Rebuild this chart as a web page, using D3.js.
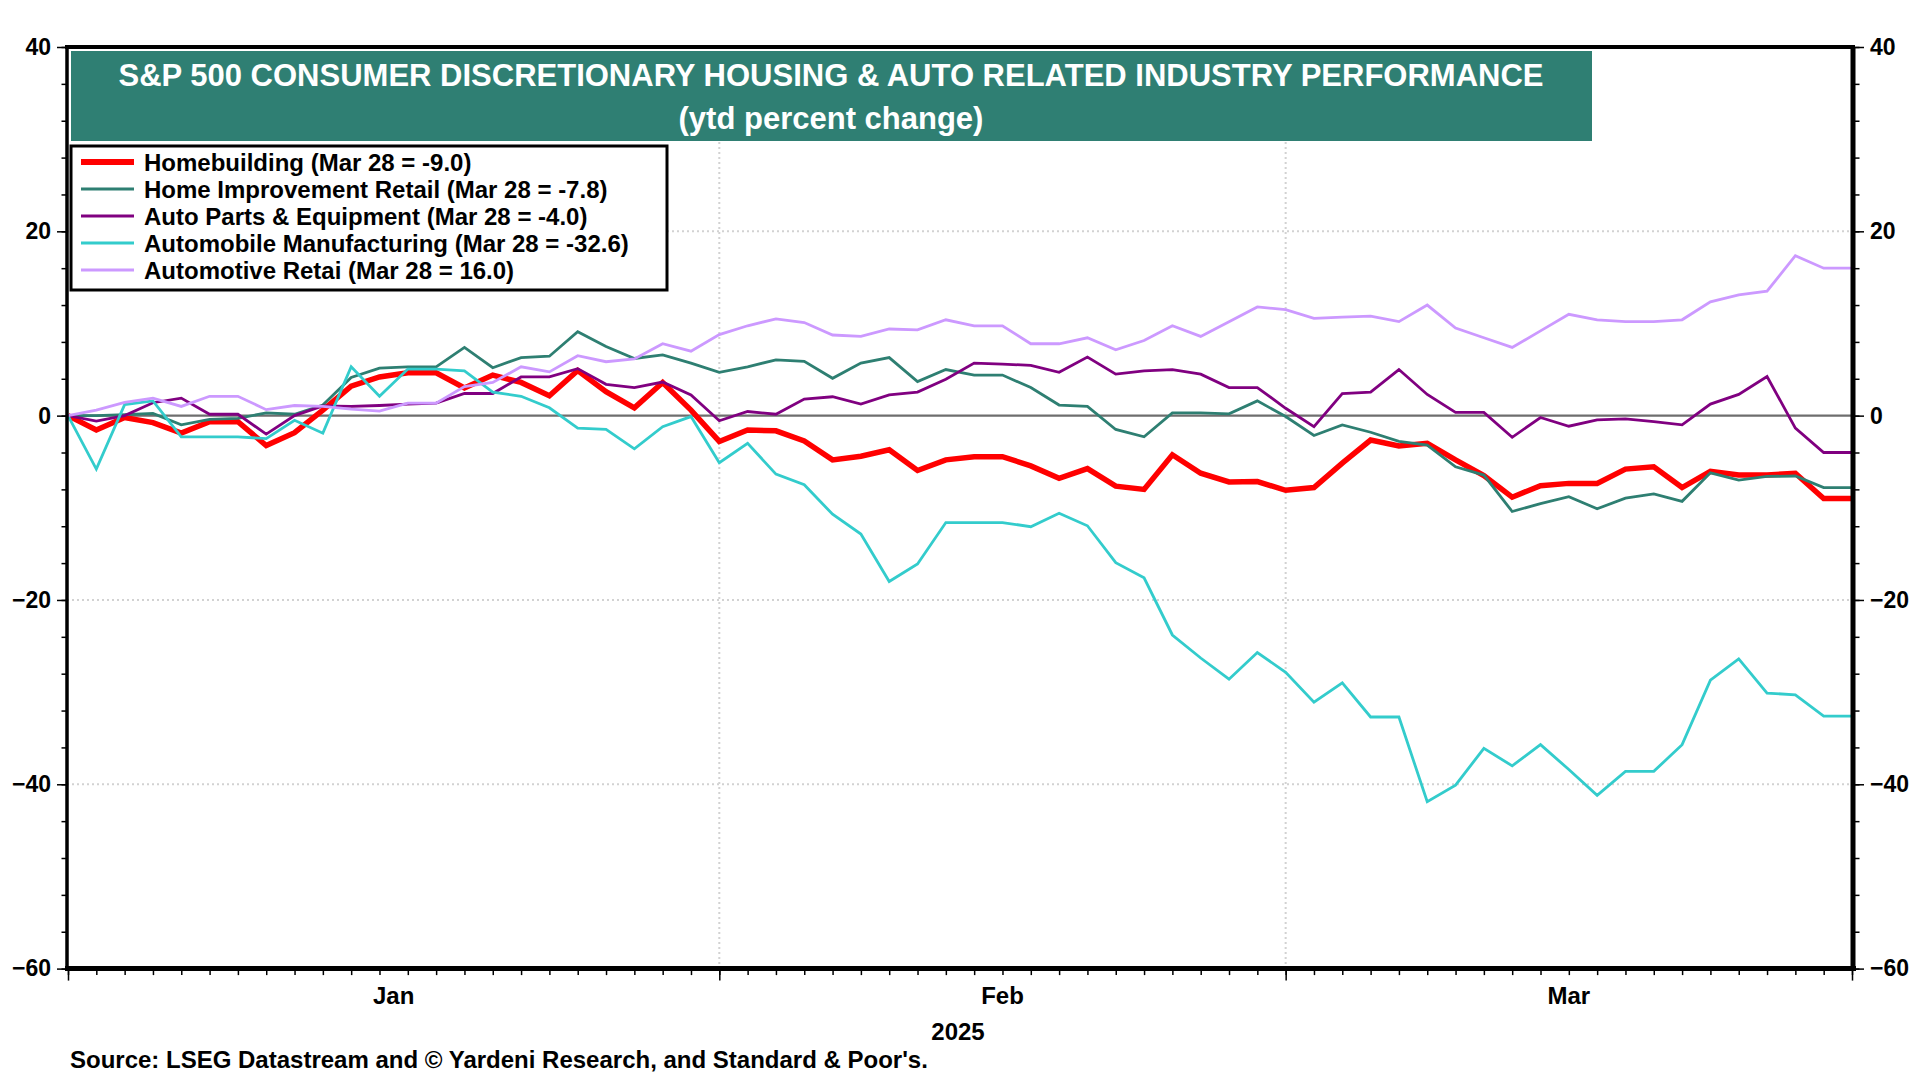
<!DOCTYPE html>
<html>
<head>
<meta charset="utf-8">
<script src="https://cdn.jsdelivr.net/npm/d3@7"></script>
<style>
  body { margin: 0; background: #fff; }
  svg { display: block; }
  text { font-family: "Liberation Sans", Arial, sans-serif; font-weight: bold; }
</style>
</head>
<body>
<svg id="chart" width="1920" height="1080"></svg>
<script>
// ytd percent change, one value per weekday from Dec 31 2024 to Mar 28 2025
const homebuilding = [
  0, -1.55, -0.2, -0.75, -1.9, -0.65, -0.65, -3.25, -1.85, 0.6,
  3.2, 4.2, 4.65, 4.65, 3.0, 4.4, 3.6, 2.15, 4.9, 2.6,
  0.85, 3.6, 0.6, -2.8, -1.55, -1.65, -2.75, -4.8, -4.4, -3.7,
  -5.95, -4.8, -4.45, -4.45, -5.45, -6.8, -5.75, -7.65, -8.0, -4.25,
  -6.25, -7.2, -7.15, -8.1, -7.8, -5.15, -2.65, -3.3, -3.0, -4.8,
  -6.5, -8.85, -7.6, -7.35, -7.35, -5.8, -5.55, -7.8, -6.05, -6.45,
  -6.45, -6.25, -9.0, -9.0
];
const homeImprovement = [
  0, 0, 0.1, 0.25, -1.0, -0.4, -0.3, 0.3, 0.15, 1.15,
  4.15, 5.15, 5.3, 5.3, 7.4, 5.2, 6.3, 6.45, 9.1, 7.5,
  6.2, 6.6, 5.7, 4.7, 5.3, 6.05, 5.9, 4.05, 5.7, 6.3,
  3.7, 5.0, 4.4, 4.4, 3.05, 1.15, 1.0, -1.5, -2.3, 0.3,
  0.3, 0.2, 1.6, -0.1, -2.15, -1.0, -1.8, -2.8, -3.2, -5.55,
  -6.45, -10.4, -9.55, -8.8, -10.1, -8.95, -8.5, -9.3, -6.2, -7.0,
  -6.6, -6.55, -7.8, -7.8
];
const autoParts = [
  0, -0.6, 0, 1.4, 1.9, 0.15, 0.15, -2.0, 0, 1.05,
  1.0, 1.1, 1.25, 1.35, 2.4, 2.4, 4.2, 4.2, 5.1, 3.4,
  3.05, 3.65, 2.25, -0.55, 0.45, 0.15, 1.8, 2.05, 1.25, 2.25,
  2.55, 3.95, 5.7, 5.6, 5.45, 4.7, 6.35, 4.5, 4.85, 5.0,
  4.5, 3.05, 3.05, 0.8, -1.2, 2.4, 2.55, 5.0, 2.3, 0.35,
  0.35, -2.35, -0.2, -1.15, -0.45, -0.35, -0.65, -1.0, 1.25, 2.3,
  4.25, -1.35, -4.0, -4.0
];
const autoManufacturing = [
  0, -5.8, 1.2, 1.6, -2.3, -2.3, -2.3, -2.5, -0.5, -1.9,
  5.3, 2.1, 5.05, 5.05, 4.85, 2.55, 2.1, 0.85, -1.35, -1.5,
  -3.6, -1.2, -0.1, -5.1, -3.0, -6.35, -7.5, -10.7, -12.85, -18.0,
  -16.1, -11.6, -11.6, -11.6, -12.05, -10.6, -11.95, -15.95, -17.6, -23.8,
  -26.3, -28.6, -25.7, -27.85, -31.1, -29.0, -32.7, -32.7, -41.9, -40.1,
  -36.1, -38.0, -35.7, -38.4, -41.2, -38.6, -38.6, -35.7, -28.7, -26.4,
  -30.1, -30.3, -32.6, -32.6
];
const autoRetail = [
  0, 0.6, 1.45, 1.9, 1.0, 2.1, 2.1, 0.65, 1.1, 1.0,
  0.7, 0.5, 1.35, 1.35, 3.15, 3.6, 5.3, 4.75, 6.5, 5.85,
  6.15, 7.8, 7.0, 8.8, 9.75, 10.5, 10.1, 8.75, 8.6, 9.4,
  9.3, 10.4, 9.75, 9.75, 7.8, 7.8, 8.45, 7.15, 8.15, 9.75,
  8.6, 10.2, 11.8, 11.5, 10.55, 10.7, 10.8, 10.2, 12.0, 9.5,
  8.45, 7.4, 9.2, 11.0, 10.4, 10.2, 10.2, 10.4, 12.35, 13.1,
  13.5, 17.35, 16.0, 16.0
];

const seriesLabels = [
  'Homebuilding (Mar 28 = -9.0)',
  'Home Improvement Retail (Mar 28 = -7.8)',
  'Auto Parts & Equipment (Mar 28 = -4.0)',
  'Automobile Manufacturing (Mar 28 = -32.6)',
  'Automotive Retai (Mar 28 = 16.0)'
];
const seriesColors = ['#ff0000', '#2e7f72', '#800080', '#33cccc', '#cc99ff'];
const seriesWidths = [5.5, 2.8, 2.8, 2.8, 2.8];
const seriesValues = [homebuilding, homeImprovement, autoParts, autoManufacturing, autoRetail];

const yMajorTicks = [-60, -40, -20, 0, 20, 40];
const yGridTicks = [-40, -20, 20];
const monthLabels = ['Jan', 'Feb', 'Mar'];
const yearLabel = '2025';
const titleLines = [
  'S&P 500 CONSUMER DISCRETIONARY HOUSING & AUTO RELATED INDUSTRY PERFORMANCE',
  '(ytd percent change)'
];
const sourceText = "Source: LSEG Datastream and \u00a9 Yardeni Research, and Standard & Poor's.";

// weekday calendar for the x axis
const dates = d3.timeDay.range(new Date(2024, 11, 31), new Date(2025, 2, 29))
  .filter(d => d.getDay() !== 0 && d.getDay() !== 6);

const svg = d3.select('#chart');
const L = 67, R = 1853, T = 47, B = 968.6;

const x = d3.scaleLinear().domain([0, dates.length - 1]).range([L + 1, R - 1]);
const y = d3.scaleLinear().domain([-60, 40]).range([B, T]);

// month-end indices (last weekday of each month)
const monthEnds = [];
dates.forEach((d, i) => {
  const next = dates[i + 1];
  if (next && next.getMonth() !== d.getMonth() && d.getFullYear() === 2025) monthEnds.push(i);
});
const bounds = [0, ...monthEnds, dates.length - 1];

// grid
const grid = svg.append('g');
grid.selectAll('line.h').data(yGridTicks).enter().append('line')
  .attr('x1', L).attr('x2', R).attr('y1', d => y(d)).attr('y2', d => y(d))
  .attr('stroke', '#d2d2d2').attr('stroke-width', 2).attr('stroke-dasharray', '2,3');
grid.selectAll('line.v').data(monthEnds).enter().append('line')
  .attr('x1', d => x(d)).attr('x2', d => x(d)).attr('y1', T).attr('y2', B)
  .attr('stroke', '#d2d2d2').attr('stroke-width', 2).attr('stroke-dasharray', '2,3');
grid.append('line')
  .attr('x1', L).attr('x2', R).attr('y1', y(0)).attr('y2', y(0))
  .attr('stroke', '#6e6e6e').attr('stroke-width', 2.2);

// title box
svg.append('rect').attr('x', 71).attr('y', 51).attr('width', 1521).attr('height', 90)
  .attr('fill', '#2f7f73');
svg.append('text').attr('x', 831).attr('y', 86).attr('text-anchor', 'middle')
  .attr('font-size', '31px').attr('fill', '#fff').text(titleLines[0]);
svg.append('text').attr('x', 831).attr('y', 129).attr('text-anchor', 'middle')
  .attr('font-size', '31px').attr('fill', '#fff').text(titleLines[1]);

// lines
const line = d3.line().x((d, i) => x(i)).y(d => y(d));
svg.append('g').selectAll('path').data(seriesValues).enter().append('path')
  .attr('d', d => line(d))
  .attr('fill', 'none')
  .attr('stroke', (d, i) => seriesColors[i])
  .attr('stroke-width', (d, i) => seriesWidths[i])
  .attr('stroke-linejoin', 'miter');

// legend
const lg = svg.append('g');
lg.append('rect').attr('x', 71).attr('y', 146).attr('width', 596).attr('height', 144)
  .attr('fill', '#fff').attr('stroke', '#000').attr('stroke-width', 3);
const rows = lg.selectAll('g').data(seriesLabels).enter().append('g')
  .attr('transform', (d, i) => `translate(0,${162 + i * 27})`);
rows.append('line').attr('x1', 81).attr('x2', 134).attr('y1', 0).attr('y2', 0)
  .attr('stroke', (d, i) => seriesColors[i])
  .attr('stroke-width', (d, i) => i === 0 ? 6 : 3);
rows.append('text').attr('x', 144).attr('y', 8.5).attr('font-size', '24px')
  .attr('fill', '#000').text(d => d);

// frame
const frame = svg.append('g').attr('stroke', '#000');
frame.append('line').attr('x1', L - 2).attr('x2', R + 2).attr('y1', T).attr('y2', T).attr('stroke-width', 4);
frame.append('line').attr('x1', L - 2).attr('x2', R + 3).attr('y1', B).attr('y2', B).attr('stroke-width', 5);
frame.append('line').attr('x1', L).attr('x2', L).attr('y1', T).attr('y2', B).attr('stroke-width', 3.5);
frame.append('line').attr('x1', R).attr('x2', R).attr('y1', T).attr('y2', B).attr('stroke-width', 5);

// y axes
function yAxes(gen, xPos, size) {
  const minor = svg.append('g').attr('transform', `translate(${xPos},0)`)
    .call(gen(y).tickValues(d3.range(-60, 41, 4)).tickSize(size).tickFormat(''));
  const major = svg.append('g').attr('transform', `translate(${xPos},0)`)
    .call(gen(y).tickValues(yMajorTicks).tickSize(size * 2).tickPadding(6));
  [minor, major].forEach(g => {
    g.select('.domain').remove();
    g.selectAll('line').attr('stroke', '#000').attr('stroke-width', 1.5);
  });
  major.selectAll('text').attr('font-size', '23px').attr('fill', '#000')
    .style('font-family', '"Liberation Sans", Arial, sans-serif').style('font-weight', 'bold');
}
yAxes(d3.axisLeft, L - 1, 4.5);
yAxes(d3.axisRight, R + 2, 4.5);

// x axis
const xMinor = svg.append('g').attr('transform', `translate(0,${B + 2})`)
  .call(d3.axisBottom(x).tickValues(d3.range(0, dates.length)).tickSize(4.5).tickFormat(''));
const xMajor = svg.append('g').attr('transform', `translate(0,${B + 2})`)
  .call(d3.axisBottom(x).tickValues(bounds).tickSize(10).tickFormat(''));
[xMinor, xMajor].forEach(g => {
  g.select('.domain').remove();
  g.selectAll('line').attr('stroke', '#000').attr('stroke-width', 1.5);
});

svg.append('g').selectAll('text').data(monthLabels).enter().append('text')
  .attr('x', (d, i) => x((bounds[i] + bounds[i + 1]) / 2))
  .attr('y', 1004).attr('text-anchor', 'middle').attr('font-size', '24px')
  .text(d => d);
svg.append('text').attr('x', x((bounds[0] + bounds[bounds.length - 1]) / 2) - 2).attr('y', 1040)
  .attr('text-anchor', 'middle').attr('font-size', '24px').text(yearLabel);

svg.append('text').attr('x', 70).attr('y', 1068).attr('font-size', '24px').text(sourceText);
</script>
</body>
</html>
